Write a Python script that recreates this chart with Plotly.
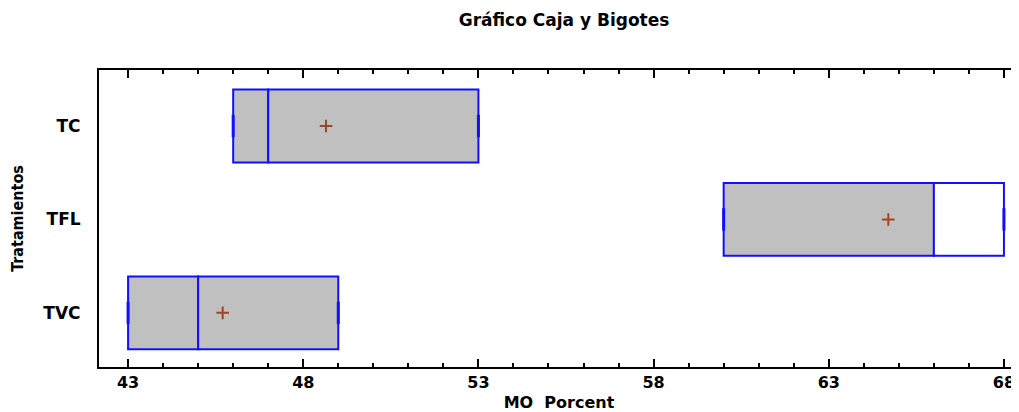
import plotly.graph_objects as go

categories = ["TVC", "TFL", "TC"]
minimum = [43.0, 60.0, 46.0]
q1 = [43.0, 60.0, 46.0]
median = [45.0, 66.0, 47.0]
q3 = [49.0, 68.0, 53.0]
maximum = [49.0, 68.0, 53.0]
mean = [45.7, 64.7, 48.65]
upper_fill = ["#c0c0c0", "#ffffff", "#c0c0c0"]
x_ticks = [43, 48, 53, 58, 63, 68]

BLUE = "#1010ff"
FONT = "DejaVu Sans"

fig = go.Figure()
fig.add_trace(go.Bar(
    y=categories, x=[m - a for m, a in zip(median, q1)], base=q1,
    orientation="h", width=0.78,
    marker=dict(color="#c0c0c0", line=dict(color=BLUE, width=2)),
    showlegend=False, hoverinfo="skip"))
fig.add_trace(go.Bar(
    y=categories, x=[b - m for b, m in zip(q3, median)], base=median,
    orientation="h", width=0.78,
    marker=dict(color=upper_fill, line=dict(color=BLUE, width=2)),
    showlegend=False, hoverinfo="skip"))
# whisker ends (zero-length whiskers)
fig.add_trace(go.Scatter(
    y=categories + categories, x=minimum + maximum, mode="markers",
    marker=dict(symbol="line-ns", size=16, line=dict(color=BLUE, width=3)),
    showlegend=False, hoverinfo="skip"))
fig.add_trace(go.Scatter(
    y=categories, x=mean, mode="markers",
    marker=dict(symbol="cross-thin", size=9, line=dict(color="#a0461e", width=2)),
    showlegend=False))

fig.update_layout(
    width=1011, height=404, barmode="overlay",
    plot_bgcolor="white", paper_bgcolor="white",
    margin=dict(l=91, r=0, t=62, b=45),
    title=dict(text="<b>Gráfico Caja y Bigotes</b>", x=0.550, xanchor="center",
               y=1 - 12 / 404, yanchor="middle",
               font=dict(family=FONT, size=17, color="black")),
    font=dict(family=FONT, color="black"),
)
fig.update_xaxes(
    range=[42.17, 68.43], tickvals=x_ticks, ticktext=[f"<b>{t}</b>" for t in x_ticks],
    ticks="inside", ticklen=8, tickwidth=2, tickcolor="black",
    minor=dict(dtick=1, tick0=43, ticks="inside", ticklen=4, tickwidth=2, tickcolor="black"),
    showline=True, linecolor="black", linewidth=2, mirror="ticks",
    showgrid=False, zeroline=False,
    tickfont=dict(size=16, family=FONT),
    title=dict(text="<b>MO\u00a0 Porcent</b>", standoff=6,
               font=dict(size=16, family=FONT)),
)
fig.update_yaxes(
    type="category", categoryorder="array", categoryarray=categories,
    range=[-0.58, 2.6],
    ticktext=[f"<b>{c}</b>" for c in categories], tickvals=categories,
    showline=True, linecolor="black", linewidth=2, ticks="",
    ticklabelstandoff=13,
    showgrid=False, zeroline=False,
    tickfont=dict(size=17, family=FONT),
    title=dict(text="<b>Tratamientos</b>", standoff=16,
               font=dict(size=16, family="DejaVu Sans Condensed, Liberation Sans")),
)
fig.write_html("out.html")
